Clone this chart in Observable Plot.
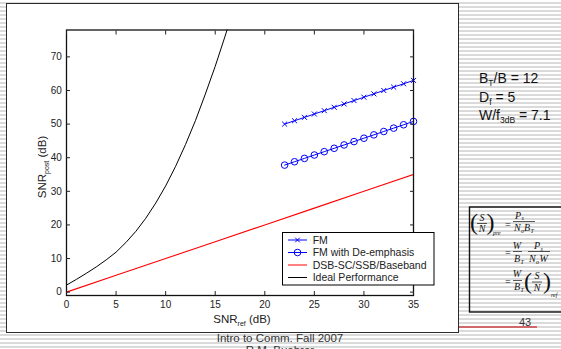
<!DOCTYPE html>
<html><head><meta charset="utf-8">
<script src="https://cdn.jsdelivr.net/npm/d3@7"></script>
<script src="https://cdn.jsdelivr.net/npm/@observablehq/plot@0.6"></script>
<style>
html,body{margin:0;padding:0;}
body{width:561px;height:349px;overflow:hidden;position:relative;font-family:"Liberation Sans",Arial,sans-serif;
background:repeating-linear-gradient(to bottom,#ffffff 0px,#ffffff 2px,#dadada 2px,#dadada 4px);}
#box{position:absolute;left:6px;top:3px;width:453px;height:330px;box-sizing:border-box;background:#fff;border:1.5px solid #2b2b2b;}
#chart{position:absolute;left:0;top:0;}
#chart svg{display:block;}
</style></head>
<body>
<div id="box"></div>
<div id="chart"></div>
<script>
// ---- data ----
const xTicks = [0, 5, 10, 15, 20, 25, 30, 35];
const yTicks = [0, 10, 20, 30, 40, 50, 60, 70];
const seriesNames = ["FM", "FM with De-emphasis", "DSB-SC/SSB/Baseband", "Ideal Performance"];
const seriesColors = ["#0000ff", "#0000ff", "#ff0000", "#000000"];

const fmX = [22, 23, 24, 25, 26, 27, 28, 29, 30, 31, 32, 33, 34, 35];
const fmY = [50.0, 51.0, 52.0, 53.0, 54.0, 55.0, 56.0, 57.0, 58.0, 59.0, 60.0, 61.0, 62.0, 63.0];
const deX = [22, 23, 24, 25, 26, 27, 28, 29, 30, 31, 32, 33, 34, 35];
const deY = [37.8, 38.8, 39.8, 40.8, 41.8, 42.8, 43.8, 44.8, 45.8, 46.8, 47.8, 48.8, 49.8, 50.8];
const dsbX = [0, 5, 10, 15, 20, 25, 30, 35];
const dsbY = [0, 5, 10, 15, 20, 25, 30, 35];
const idealX = [0, 1, 2, 3, 4, 5, 6, 7, 8, 9, 10, 11, 12, 13, 14, 15, 16, 17];
const idealY = [2.1, 3.8, 5.6, 7.5, 9.6, 11.9, 14.8, 18.1, 22.0, 26.5, 31.6, 37.4, 43.9, 51.0, 58.9, 67.2, 76.2, 85.7];

const params = [["B", "T", "/B = 12"], ["D", "f", " = 5"], ["W/f", "3dB", " = 7.1"]];

const toRows = (xs, ys) => xs.map((x, i) => ({x, y: ys[i]}));
const fm = toRows(fmX, fmY), de = toRows(deX, deY), dsb = toRows(dsbX, dsbY), ideal = toRows(idealX, idealY);

const font = "Liberation Sans, Arial, sans-serif";
const chart = Plot.plot({
  width: 561, height: 349,
  marginLeft: 66, marginRight: 148, marginTop: 29.5, marginBottom: 54,
  style: {background: "transparent", fontFamily: font, fontSize: "10px", color: "#222", overflow: "visible"},
  x: {domain: [0, 35]},
  y: {domain: [-1, 78]},
  marks: [
    Plot.line(dsb, {x: "x", y: "y", stroke: seriesColors[2], strokeWidth: 1.1, clip: true}),
    Plot.line(ideal, {x: "x", y: "y", stroke: seriesColors[3], strokeWidth: 1, clip: true}),
    Plot.line(fm, {x: "x", y: "y", stroke: seriesColors[0], strokeWidth: 1}),
    Plot.dot(fm, {x: "x", y: "y", symbol: "times", r: 2.4, stroke: seriesColors[0], strokeWidth: 1}),
    Plot.line(de, {x: "x", y: "y", stroke: seriesColors[1], strokeWidth: 1}),
    Plot.dot(de, {x: "x", y: "y", symbol: "circle", r: 3.3, stroke: seriesColors[1], fill: "none", strokeWidth: 1}),
    Plot.frame({stroke: "#111", strokeWidth: 1.3}),
    Plot.axisX(xTicks, {anchor: "bottom", tickSize: 0, tickPadding: 5.5, label: null, fill: "#222"}),
    Plot.axisX(xTicks, {anchor: "bottom", tickSize: 4, dy: -4, tickFormat: () => "", label: null}),
    Plot.axisX(xTicks, {anchor: "top", tickSize: 4, dy: 4, tickFormat: () => "", label: null}),
    Plot.axisY(yTicks, {anchor: "left", tickSize: 0, tickPadding: 4.7, label: null, fill: "#222"}),
    Plot.axisY(yTicks, {anchor: "left", tickSize: 4, dx: 4, tickFormat: () => "", label: null}),
    Plot.axisY(yTicks, {anchor: "right", tickSize: 4, dx: -4, tickFormat: () => "", label: null})
  ]
});
document.getElementById("chart").appendChild(chart);

const svg = d3.select(chart);

// axis titles
const yl = svg.append("text").attr("transform", "translate(46,167) rotate(-90)")
  .attr("text-anchor", "middle").attr("font-size", 11.5).attr("fill", "#222").attr("font-family", font);
yl.append("tspan").text("SNR");
yl.append("tspan").attr("font-size", 7).attr("dy", 2.5).text("post");
yl.append("tspan").attr("dy", -2.5).text(" (dB)");

const xl = svg.append("text").attr("x", 242).attr("y", 323.3)
  .attr("text-anchor", "middle").attr("font-size", 11.5).attr("fill", "#222").attr("font-family", font);
xl.append("tspan").text("SNR");
xl.append("tspan").attr("font-size", 7).attr("dy", 2.5).text("ref");
xl.append("tspan").attr("dy", -2.5).text(" (dB)");

// legend
const lg = svg.append("g");
lg.append("rect").attr("x", 282.5).attr("y", 232.5).attr("width", 151.5).attr("height", 52.5)
  .attr("fill", "#fff").attr("stroke", "#000").attr("stroke-width", 1);
const rowY = [240, 252.5, 265, 277.5];
seriesNames.forEach((name, i) => {
  const cy = rowY[i];
  lg.append("line").attr("x1", 288).attr("x2", 307).attr("y1", cy).attr("y2", cy)
    .attr("stroke", seriesColors[i]).attr("stroke-width", 1);
  if (i === 0) {
    lg.append("path").attr("d", `M295.2,${cy-2.3}L299.8,${cy+2.3}M295.2,${cy+2.3}L299.8,${cy-2.3}`)
      .attr("stroke", seriesColors[i]).attr("fill", "none");
  }
  if (i === 1) {
    lg.append("circle").attr("cx", 297.5).attr("cy", cy).attr("r", 3.3)
      .attr("stroke", seriesColors[i]).attr("fill", "none");
  }
  lg.append("text").attr("x", 312.7).attr("y", cy + 3.7).attr("font-size", 10.5).attr("text-anchor", "start")
    .attr("fill", "#222").attr("font-family", font).text(name);
});

// parameter text
params.forEach((p, i) => {
  const t = svg.append("text").attr("x", 479).attr("y", 83.3 + i * 18.3).attr("font-size", 14)
    .attr("text-anchor", "start").attr("fill", "#111").attr("font-family", font);
  t.append("tspan").text(p[0]);
  t.append("tspan").attr("font-size", 8.5).attr("dy", 3).text(p[1]);
  t.append("tspan").attr("dy", -3).text(p[2]);
});

// formula box
const serif = "Liberation Serif, Times New Roman, serif";
const fb = svg.append("g").attr("font-family", serif).attr("fill", "#111");
fb.append("rect").attr("x", 469.5).attr("y", 207).attr("width", 100).attr("height", 105)
  .attr("fill", "none").attr("stroke", "#111").attr("stroke-width", 1.4);
function tx(x, y, s, size, italic, anchor) {
  return fb.append("text").attr("x", x).attr("y", y).attr("font-size", size)
    .attr("font-style", italic ? "italic" : "normal").attr("text-anchor", anchor || "start").text(s);
}
function bar(x1, x2, y) {
  fb.append("line").attr("x1", x1).attr("x2", x2).attr("y1", y).attr("y2", y).attr("stroke", "#111").attr("stroke-width", 0.7);
}
// line 1
tx(470, 230, "(", 24, false); tx(486.5, 230, ")", 24, false);
tx(482, 221, "S", 10, true, "middle"); bar(477, 487, 223.5); tx(482, 232, "N", 10, true, "middle");
tx(493, 235, "pre", 6, true);
tx(505, 228, "=", 10, false);
tx(518, 218.5, "P", 10, true, "middle"); tx(521.5, 220, "s", 6, true);
bar(513, 535, 221.5);
tx(514, 231, "N", 10, true); tx(521, 232.5, "o", 6, true); tx(524, 231, "B", 10, true); tx(530.5, 232.5, "T", 6, true);
// line 2
tx(505, 255.5, "=", 10, false);
tx(517, 249, "W", 10, true, "middle"); bar(513, 522, 251.5); tx(514, 262, "B", 10, true); tx(520.5, 263.5, "T", 6, true);
tx(537, 249, "P", 10, true, "middle"); tx(540.5, 250.5, "s", 6, true);
bar(528, 550, 251.5);
tx(529, 262, "N", 10, true); tx(536, 263.5, "o", 6, true); tx(539.5, 262, "W", 10, true);
// line 3
tx(505, 284.5, "=", 10, false);
tx(517, 277, "W", 10, true, "middle"); bar(513, 522, 280.5); tx(514, 290, "B", 10, true); tx(520.5, 291.5, "T", 6, true);
tx(524, 289, "(", 24, false); tx(543, 289, ")", 24, false);
tx(537, 279, "S", 10, true, "middle"); bar(532, 542, 282); tx(537, 290.5, "N", 10, true, "middle");
tx(551, 297, "ref", 6, true);

// page number, rule, footer
svg.append("line").attr("x1", 459).attr("x2", 537).attr("y1", 327).attr("y2", 327)
  .attr("stroke", "#cc4444").attr("stroke-width", 1.5);
svg.append("text").attr("x", 525).attr("y", 325.5).attr("text-anchor", "middle").attr("font-size", 11)
  .attr("fill", "#333").attr("font-family", font).text("43");
svg.append("text").attr("x", 280).attr("y", 341.5).attr("text-anchor", "middle").attr("font-size", 11.5)
  .attr("fill", "#333").attr("font-family", font).text("Intro to Comm. Fall 2007");
svg.append("text").attr("x", 280).attr("y", 354).attr("text-anchor", "middle").attr("font-size", 11.5)
  .attr("fill", "#333").attr("font-family", font).text("R.M. Buehrer");
</script>
</body></html>
